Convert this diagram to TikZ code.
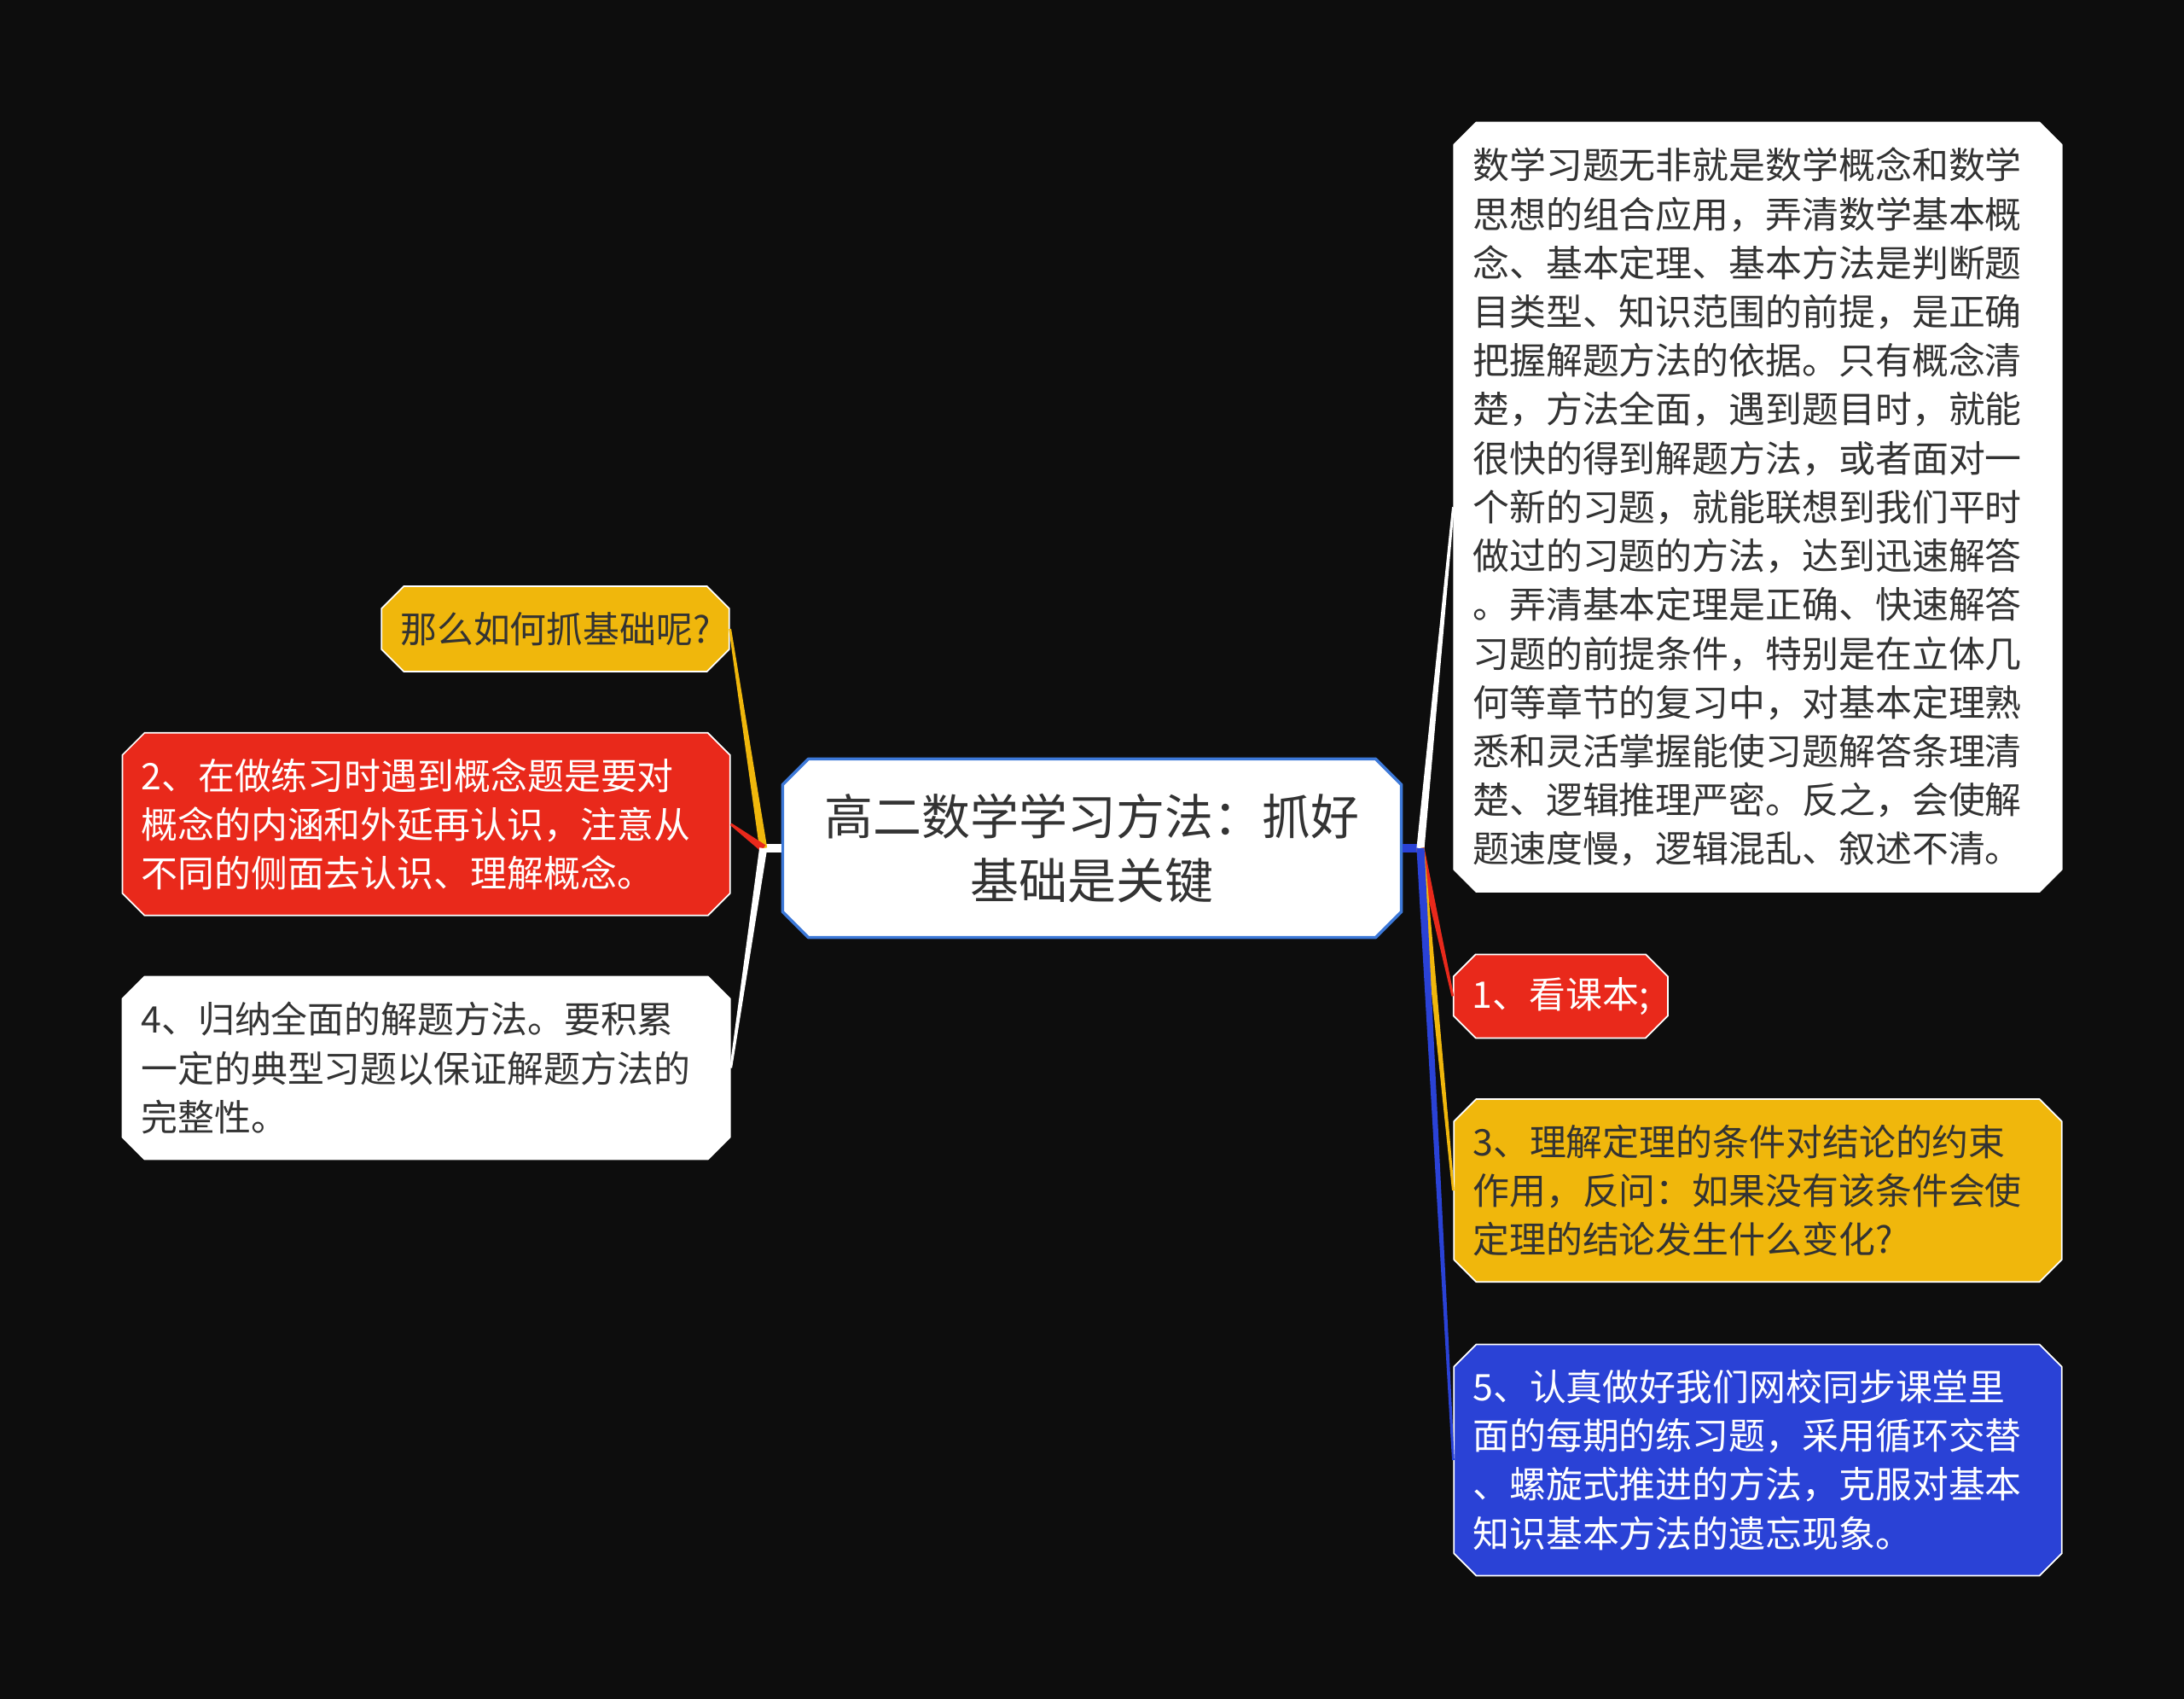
\documentclass[tikz,border=0pt]{standalone}
\usepackage{fontspec}
\newfontfamily\cjk{Noto Sans CJK SC}
\usetikzlibrary{shapes.misc,calc}
\definecolor{nen}{HTML}{0D0D0D}
\definecolor{do}{HTML}{E9291B}
\definecolor{vang}{HTML}{F0B70C}
\definecolor{xanh}{HTML}{2A42D6}
\definecolor{vien}{HTML}{3C78D8}
\definecolor{chu}{HTML}{333333}
\tikzset{
	hop/.style={chamfered rectangle, chamfered rectangle xsep=0.16cm, draw=white, line width=0.5pt,
		font=\cjk\fontsize{12.2}{16.27}\selectfont, align=left, inner xsep=0.06cm, inner ysep=0pt},
	goc/.style={chamfered rectangle, chamfered rectangle xsep=0.2cm, draw=vien, line width=1pt, fill=white, text=chu,
		font=\cjk\fontsize{16.2}{21.3}\selectfont, align=center, inner xsep=0.025cm, minimum height=2.09cm, text width=6.8cm},
	rong/.style={minimum width=6.8cm, text width=6.68cm}
}
\begin{document}
\begin{tikzpicture}[x=0.01cm, y=-0.01cm, line join=round, line cap=round]
	\def\W{2560} \def\H{1991}
	\def\nhanh#1#2#3{\fill[#1] ($(#2)!1.3pt!90:(#3)$) -- ($(#2)!1.3pt!-90:(#3)$) -- ($(#3)!0.4pt!90:(#2)$) -- ($(#3)!0.4pt!-90:(#2)$) -- cycle;}
	\useasboundingbox (0,0) rectangle (\W,\H);
	\fill[nen] (0,0) rectangle (\W,\H);
	\node[goc] (tam) at (1280,994) {高二数学学习方法：抓好\\基础是关键};
	% ben trai
	\node[hop, fill=vang, text=chu, minimum width=3.76cm, minimum height=1cm, align=center] (hoi) at (651,737) {那么如何抓基础呢?};
	\node[hop, rong, fill=do, text=white, minimum height=2.14cm] (n2) at (499.6,965.8) {2、在做练习时遇到概念题是要对\\概念的内涵和外延再认识，注意从\\不同的侧面去认识、理解概念。};
	\node[hop, rong, fill=white, text=chu, minimum height=2.14cm] (n4) at (499.6,1251.5) {4、归纳全面的解题方法。要积累\\一定的典型习题以保证解题方法的\\完整性。};
	% ben phai
	\node[hop, rong, fill=white, text=chu, minimum height=9.01cm] (lon) at (2060.5,594.3) {数学习题无非就是数学概念和数学\\思想的组合应用，弄清数学基本概\\念、基本定理、基本方法是判断题\\目类型、知识范围的前提，是正确\\把握解题方法的依据。只有概念清\\楚，方法全面，遇到题目时，就能\\很快的得到解题方法，或者面对一\\个新的习题，就能联想到我们平时\\做过的习题的方法，达到迅速解答\\。弄清基本定理是正确、快速解答\\习题的前提条件，特别是在立体几\\何等章节的复习中，对基本定理熟\\悉和灵活掌握能使习题解答条理清\\楚、逻辑推理严密。反之，会使解\\题速度慢，逻辑混乱、叙述不清。};
	\node[hop, fill=do, text=white, minimum width=2.18cm, minimum height=0.98cm, align=center] (n1) at (1829.4,1167.4) {1、看课本;};
	\node[hop, rong, fill=vang, text=chu, minimum height=2.14cm] (n3) at (2060.5,1395.1) {3、理解定理的条件对结论的约束\\作用，反问：如果没有该条件会使\\定理的结论发生什么变化?};
	\node[hop, rong, fill=xanh, text=white, minimum height=2.71cm] (n5) at (2060.5,1711) {5、认真做好我们网校同步课堂里\\面的每期的练习题，采用循环交替\\、螺旋式推进的方法，克服对基本\\知识基本方法的遗忘现象。};
	% cac nhanh
	\coordinate (tr) at (894.7,994);
	\coordinate (ph) at (1665,994);
	\draw[white, line width=2.6pt, line cap=butt] (tam.west) -- (tr);
	\draw[xanh, line width=2.6pt, line cap=butt] (tam.east) -- (ph);
	\nhanh{vang}{tr}{hoi.east}
	\nhanh{do}{tr}{n2.east}
	\nhanh{white}{tr}{n4.east}
	\nhanh{white}{ph}{lon.west}
	\nhanh{do}{ph}{n1.west}
	\nhanh{vang}{ph}{n3.west}
	\nhanh{xanh}{ph}{n5.west}
\end{tikzpicture}
\end{document}
